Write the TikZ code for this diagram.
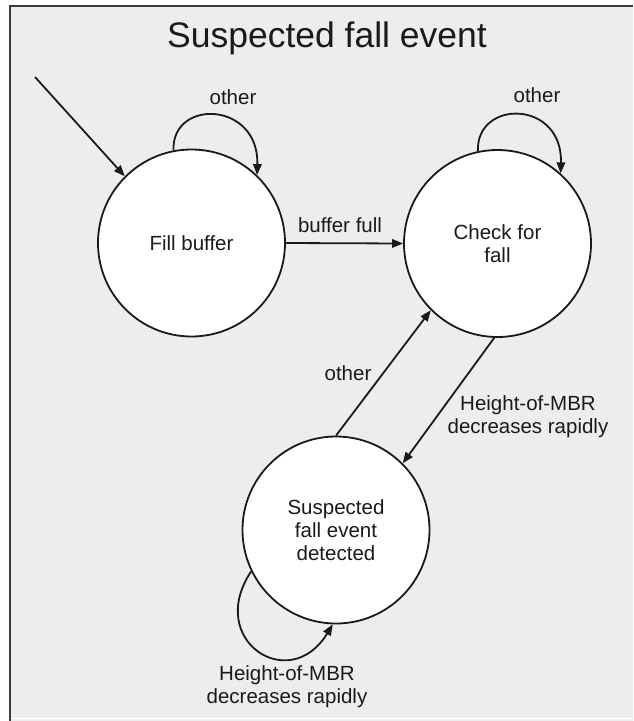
\documentclass[tikz,border=0pt]{standalone}
\usepackage{fontspec}
\setmainfont{Liberation Sans}
\usetikzlibrary{arrows.meta}
\definecolor{panel}{HTML}{EDEDED}
\definecolor{ink}{HTML}{1A1A1A}
\begin{document}
\begin{tikzpicture}[x=1pt,y=-1pt,
  state/.style={circle,draw=ink,fill=white,line width=1.8pt,minimum size=187pt,
    inner sep=0pt,align=center,font=\fontsize{20.5}{23}\selectfont,text=ink},
  edge/.style={draw=ink,line width=1.8pt,-{Triangle[length=11pt,width=8.5pt]}},
  lbl/.style={font=\fontsize{20.5}{23}\selectfont,text=ink,align=center,inner sep=0pt}]

\useasboundingbox (0,0) rectangle (633,721);

% panel with its frame
\fill[white] (0,0) rectangle (633,721);
\fill[panel] (10,6) rectangle (633,721);
\draw[white,line width=1pt] (10,718.5) -- (633,718.5);
\draw[ink!85,line width=2pt] (633,6) -- (10,6) -- (10,721);

% title
\node[lbl,font=\fontsize{35.5}{40}\selectfont,anchor=base] (title) at (327,47) {Suspected fall event};

% states
\node[state] (fill)  at (191.5,243)   {Fill buffer};
\node[state] (check) at (497.5,243.5) {Check for\\fall};
\node[state] (susp)  at (336,530)     {Suspected\\fall event\\detected};

% initial transition
\coordinate (start) at (35,77);
\draw[edge] (start) -- (fill.135);

% self loops
\draw[edge] (fill.101) .. controls +(-2,-52) and +(2,-74) .. (fill.46);
\node[lbl] (otherA) at (233,97) {other};

\draw[edge] (check.102) .. controls +(-2,-52) and +(2,-74) .. (check.48);
\node[lbl] (otherB) at (537,95) {other};

\draw[edge] (susp.206) .. controls +(-46,69) and +(-43,71) .. (susp.268);
\node[lbl] (heightB) at (287,687) {Height-of-MBR\\decreases rapidly};

% transitions between states
\draw[edge] (fill.0) -- (check.180);
\node[lbl] (full) at (340,225) {buffer full};

\draw[edge] (susp.90) -- (check.225);
\node[lbl] (otherC) at (348,373) {other};

\draw[edge] (check.268) -- (susp.45);
\node[lbl] (heightA) at (528,417) {Height-of-MBR\\decreases rapidly};
\end{tikzpicture}
\end{document}
